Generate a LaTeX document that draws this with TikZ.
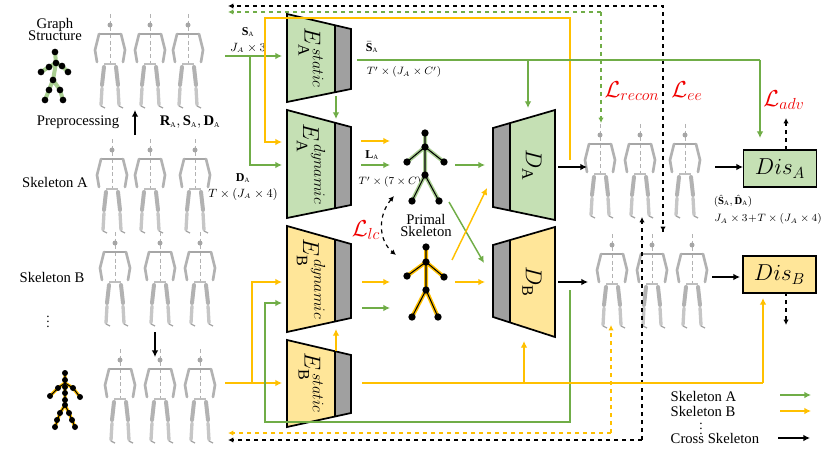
\documentclass[tikz,border=0pt]{standalone}
\usepackage{fontspec}
\setmainfont{Liberation Serif}
\usepackage{amsmath}
\usetikzlibrary{arrows.meta}
\definecolor{gA}{RGB}{112,173,71}
\definecolor{gF}{RGB}{197,224,180}
\definecolor{yA}{RGB}{255,192,0}
\definecolor{yF}{RGB}{255,230,153}
\definecolor{gb}{RGB}{160,160,160}
\definecolor{lred}{RGB}{240,0,0}
\tikzset{
 ga/.style={draw=gA,line width=1.1pt,-{Latex[length=5pt,width=5pt]}},
 gl/.style={draw=gA,line width=1.1pt},
 ya/.style={draw=yA,line width=1.1pt,-{Latex[length=5pt,width=5pt]}},
 yl/.style={draw=yA,line width=1.1pt},
 ka/.style={draw=black,line width=1.1pt,-{Latex[length=5pt,width=5pt]}},
 kd/.style={draw=black,line width=0.9pt,dashed,-{Latex[length=4pt,width=4pt]}},
 trap/.style={draw=black,line width=1.3pt},
 lbl/.style={font=\small,inner sep=0pt},
 loss/.style={text=lred,font=\LARGE,inner sep=0pt},
 dot/.style={circle,fill=black,inner sep=0pt,minimum size=5pt},
 txt/.style={font=\fontsize{11}{12}\selectfont},
 fig/.pic={
  \draw[gray!60,densely dashed,line width=0.5pt] (0,-6)--(0,44);
  \fill[gray!70] (0,5) circle (2.5);
  \draw[gray!70,line width=1.2pt] (-11,14)--(11,14);
  \draw[gray!60,line width=2pt,line cap=round] (-11,14)--(-15,30)--(-13,42) (11,14)--(15,30)--(13,42);
  \draw[gray!50,line width=0.8pt] (-6,44)--(6,44);
  \draw[gray!60,line width=3pt,line cap=round] (-6,47)--(-8,65) (6,47)--(8,65);
  \draw[gray!45,line width=2.5pt,line cap=round] (-8,68)--(-9,85) (8,68)--(9,85);
  \draw[gray!70,line width=1pt] (-9,86)--(-5,88) (9,86)--(13,88);
 }
}
\begin{document}
\begin{tikzpicture}[x=0.75pt,y=-0.75pt]
\useasboundingbox (0,0) rectangle (830,449);
% left column text
\node[txt,align=center] (gs) at (55,29) {Graph\\[-3pt]Structure};
\draw[gA!60,line width=3pt] (55,52)--(56,63)--(53,80) (41,72)--(49,67)--(56,63)--(62,66)--(68,72) (45,100)--(49,90)--(53,80)--(60,90)--(63,100);
\foreach \p in {(55,52),(56,63),(49,67),(41,72),(62,66),(68,72),(53,80),(49,90),(45,100),(60,90),(63,100)} \node[dot] at \p {};
\node[txt] (pre) at (78,122) {Preprocessing};
\coordinate (pu1) at (135,135); \coordinate (pu2) at (135,110);
\draw[ka] (pu1)--(pu2);
\node[txt] (rsd) at (190,122) {$\mathbf{R}_{\scriptscriptstyle\mathrm A},\mathbf{S}_{\scriptscriptstyle\mathrm A},\mathbf{D}_{\scriptscriptstyle\mathrm A}$};
\node[txt] (ska) at (55,182) {Skeleton A};
\node[txt] (skb) at (52,277) {Skeleton B};
\node (vd) at (48,318) {$\vdots$};
\coordinate (pd1) at (155,332); \coordinate (pd2) at (155,357);
\draw[ka] (pd1)--(pd2);
\draw[yA,line width=2.5pt] (65,373)--(65,405) (50,396)--(58,388)--(65,383)--(73,388)--(80,397) (55,427)--(60,413)--(65,405)--(69,413)--(75,427);
\draw[black,line width=0.8pt] (65,373)--(65,405) (50,396)--(58,388)--(65,383)--(73,388)--(80,397) (55,427)--(60,413)--(65,405)--(69,413)--(75,427);
\foreach \p in {(65,373),(65,380),(65,387),(58,388),(50,396),(73,388),(80,397),(65,393),(65,400),(65,405),(60,413),(55,427),(69,413),(75,427),(57,420),(72,420)} \node[dot,minimum size=4.5pt] at \p {};
% stick figures
\foreach \x/\y in {110/20,150/20,188/20,112/145,150/145,195/145,115/238,160/238,200/238,120/355,160/355,200/355,600/130,640/130,685/130,612/240,652/240,692/240}
  \pic at (\x,\y) {fig};
% dashed top/bottom lines
\draw[kd] (663,232)--(663,6)--(228,6);
\draw[kd] (663,100)--(663,232);
\draw[kd,draw=gA] (601,12)--(228,12);
\draw[kd,draw=gA] (601,12)--(601,123);
\draw[kd,draw=yA] (611,433)--(228,433);
\draw[kd,draw=yA] (611,433)--(611,325);
\draw[kd] (642,440)--(228,440);
\draw[kd] (642,440)--(642,217);
% trapezoids
\fill[gF] (287,14)--(351,29)--(351,89)--(287,102)--cycle;
\fill[gb] (335,25.3)--(351,29)--(351,89)--(335,92.3)--cycle; \draw[trap] (335,25.3)--(335,92.3) (287,14)--(351,29)--(351,89)--(287,102)--cycle;
\node[rotate=-90,font=\LARGE] (esa) at (311,58) {$E_{\mathrm A}^{\,static}$};
\fill[gF] (287,110)--(351,127)--(351,205)--(287,218)--cycle;
\fill[gb] (335,122.8)--(351,127)--(351,205)--(335,208.2)--cycle; \draw[trap] (335,122.8)--(335,208.2) (287,110)--(351,127)--(351,205)--(287,218)--cycle;
\node[rotate=-90,font=\LARGE] (eda) at (311,164) {$E_{\mathrm A}^{\,dynamic}$};
\fill[yF] (287,226)--(351,244)--(351,318)--(287,332)--cycle;
\fill[gb] (335,239.5)--(351,244)--(351,318)--(335,321.5)--cycle; \draw[trap] (335,239.5)--(335,321.5) (287,226)--(351,244)--(351,318)--(287,332)--cycle;
\node[rotate=-90,font=\LARGE] (edb) at (311,279) {$E_{\mathrm B}^{\,dynamic}$};
\fill[yF] (287,340)--(351,355)--(351,413)--(287,427)--cycle;
\fill[gb] (335,351.3)--(351,355)--(351,413)--(335,416.5)--cycle; \draw[trap] (335,351.3)--(335,416.5) (287,340)--(351,355)--(351,413)--(287,427)--cycle;
\node[rotate=-90,font=\LARGE] (esb) at (311,383) {$E_{\mathrm B}^{\,static}$};
\fill[gF] (493,128)--(555,110)--(555,220)--(493,207)--cycle;
\fill[gb] (493,128)--(510,123)--(510,210.6)--(493,207)--cycle; \draw[trap] (510,123)--(510,210.6) (493,128)--(555,110)--(555,220)--(493,207)--cycle;
\node[rotate=-90,font=\LARGE] (da) at (532,165) {$D_{\mathrm A}$};
\fill[yF] (493,245)--(555,227)--(555,337)--(493,317)--cycle;
\fill[gb] (493,245)--(510,240)--(510,322.5)--(493,317)--cycle; \draw[trap] (510,240)--(510,322.5) (493,245)--(555,227)--(555,337)--(493,317)--cycle;
\node[rotate=-90,font=\LARGE] (db) at (532,282) {$D_{\mathrm B}$};
% inputs A
\node[lbl,align=center] (sa) at (248,40) {$\mathbf{S}_{\scriptscriptstyle\mathrm A}$\\[1pt]$J_{\scriptscriptstyle A}\times 3$};
\draw[ga] (225,56)--(282,56);
\draw[ga] (250,56)--(250,165)--(282,165);
\node[lbl,align=center] (dal) at (243,187) {$\mathbf{D}_{\scriptscriptstyle\mathrm A}$\\[1pt]$T\times(J_{\scriptscriptstyle A}\times 4)$};
\draw[ya] (570,160)--(570,18)--(265,18)--(265,142)--(282,142);
\draw[ga] (336,96)--(336,119);
\node[lbl] (sbar) at (372,47) {$\bar{\mathbf{S}}_{\scriptscriptstyle\mathrm A}$};
\node[lbl,font=\footnotesize] (sbd) at (404,72) {$T'\times(J_{\scriptscriptstyle A}\times C')$};
\draw[gl] (357,60)--(760,60);
\draw[ga] (760,60)--(760,138);
\draw[ga] (528,60)--(528,108);
\draw[ya] (361,141)--(390,141);
\draw[ga] (361,165)--(390,165);
\node[lbl] (la) at (372,155) {$\mathbf{L}_{\scriptscriptstyle\mathrm A}$};
\node[lbl,font=\footnotesize] (lad) at (390,182) {$T'\times(7\times C)$};
% primal skeletons
\draw[gA!60,line width=3pt] (425,133)--(425,175) (407,162)--(425,147)--(444,162) (412,201)--(425,175)--(439,201);
\draw[black,line width=0.8pt] (425,133)--(425,175) (407,162)--(425,147)--(444,162) (412,201)--(425,175)--(439,201);
\foreach \p in {(425,133),(425,147),(407,162),(444,162),(425,175),(412,201),(439,201)} \node[dot,minimum size=5.5pt] at \p {};
\node[txt,align=center] (prim) at (426,225) {Primal\\[-3pt]Skeleton};
\draw[yA,line width=3pt] (426,247)--(426,290) (407,276)--(426,262)--(444,277) (412,317)--(426,290)--(438,317);
\draw[black,line width=0.8pt] (426,247)--(426,290) (407,276)--(426,262)--(444,277) (412,317)--(426,290)--(438,317);
\foreach \p in {(426,247),(426,262),(407,276),(444,277),(426,290),(412,317),(438,317)} \node[dot,minimum size=5.5pt] at \p {};
\draw[ga] (455,165)--(485,165);
\draw[ga] (449,202)--(484,263);
\draw[ya] (452,260)--(487,188);
\draw[ya] (455,282)--(485,282);
\node[loss] (llc) at (366,230) {$\mathcal{L}_{lc}$};
\draw[kd,{Latex[length=4pt,width=4pt]}-{Latex[length=4pt,width=4pt]}] (394,196) .. controls (378,215) and (378,240) .. (396,255);
% inputs B
\draw[ya] (362,282)--(390,282);
\draw[ga] (362,308)--(390,308);
\draw[ya] (225,383)--(282,383);
\draw[ya] (252,383)--(252,282)--(282,282);
\draw[ga] (570,290)--(570,422)--(265,422)--(265,303)--(282,303);
\draw[ya] (336,351)--(336,329);
\draw[yl] (362,383)--(763,383);
\draw[ya] (763,383)--(763,298);
\draw[ya] (524,383)--(524,341);
% outputs
\draw[ka] (558,167)--(587,167);
\draw[ka] (558,282)--(588,282);
\draw[ka] (715,167)--(743,167);
\draw[ka] (712,277)--(740,277);
\node[draw,line width=1.3pt,fill=gF,minimum width=54.75pt,minimum height=27.75pt,inner sep=0pt,font=\LARGE] (disa) at (780,168.5) {$Dis_{A}$};
\node[draw,line width=1.3pt,fill=yF,minimum width=54.75pt,minimum height=27.75pt,inner sep=0pt,font=\LARGE] (disb) at (779.5,274.5) {$Dis_{B}$};
\node[loss] (lrec) at (632,91) {$\mathcal{L}_{recon}$};
\node[loss] (lee) at (687,91) {$\mathcal{L}_{ee}$};
\node[loss] (ladv) at (784,100) {$\mathcal{L}_{adv}$};
\draw[kd] (786,150)--(786,118);
\draw[kd] (786,292)--(786,325);
\node[lbl,font=\footnotesize] (shat) at (733,201) {$(\hat{\mathbf{S}}_{\scriptscriptstyle\mathrm A},\hat{\mathbf{D}}_{\scriptscriptstyle\mathrm A})$};
\node[lbl,font=\footnotesize] (shd) at (768,219) {$J_{\scriptscriptstyle A}\times 3\!+\!T\times(J_{\scriptscriptstyle A}\times 4)$};
% legend
\node[txt,anchor=west] (la1) at (666,396) {Skeleton A};
\node[txt,anchor=west] (la2) at (666,411) {Skeleton B};
\node at (701,425) {$\vdots$};
\node[txt,anchor=west] (la3) at (666,438) {Cross Skeleton};
\draw[ga] (780,395)--(811,395);
\draw[ya] (780,411)--(811,411);
\draw[ka] (778,438)--(810,438);
\end{tikzpicture}
\end{document}
